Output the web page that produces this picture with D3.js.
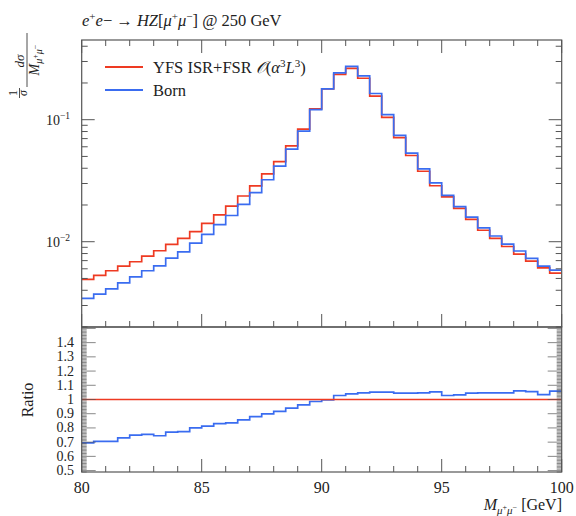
<!DOCTYPE html>
<html><head><meta charset="utf-8">
<script src="https://cdn.jsdelivr.net/npm/d3@7"></script>
<style>
body{margin:0;background:#fff}
text{font-family:"Liberation Serif","DejaVu Serif",serif;fill:#222}
</style>
</head><body><svg id="c" width="576" height="516"></svg>
<script>
// ---- data ----
const binLow = [80,80.5,81,81.5,82,82.5,83,83.5,84,84.5,85,85.5,86,86.5,87,87.5,88,88.5,89,89.5,
                90,90.5,91,91.5,92,92.5,93,93.5,94,94.5,95,95.5,96,96.5,97,97.5,98,98.5,99,99.5];
const binHigh = 100;
const yfs = [0.00491,0.0053,0.00578,0.00631,0.00685,0.00763,0.00843,0.00952,0.01067,0.0121,
             0.01415,0.0166,0.0196,0.0237,0.0287,0.0360,0.0454,0.0611,0.0838,0.1225,
             0.179,0.2354,0.2635,0.2187,0.1559,0.1046,0.0713,0.0509,0.0378,0.02875,
             0.02335,0.01878,0.01522,0.01242,0.01064,0.00914,0.00791,0.00693,0.0061,0.00552];
const born = [0.00343,0.00372,0.0041,0.0046,0.00515,0.00578,0.00635,0.00735,0.00825,0.00975,
              0.0115,0.0138,0.0164,0.0202,0.0253,0.0322,0.0417,0.0574,0.0805,0.1208,
              0.1786,0.242,0.274,0.229,0.164,0.110,0.0745,0.0532,0.0396,0.0303,
              0.0240,0.0194,0.0159,0.0130,0.01114,0.00957,0.00839,0.00731,0.00631,0.00585];
const ratioYfs = [1,1,1,1,1,1,1,1,1,1,1,1,1,1,1,1,1,1,1,1,1,1,1,1,1,1,1,1,1,1,1,1,1,1,1,1,1,1,1,1];
const ratioBorn = [0.695,0.705,0.705,0.73,0.75,0.755,0.745,0.77,0.774,0.80,
                   0.813,0.83,0.835,0.856,0.88,0.899,0.917,0.939,0.962,0.986,
                   0.997,1.028,1.04,1.047,1.052,1.052,1.045,1.045,1.047,1.054,
                   1.028,1.033,1.045,1.047,1.047,1.047,1.061,1.055,1.035,1.059];
const xTickValues = [80,85,90,95,100];
const xTickLabels = ["80","85","90","95","100"];
const yTopMajor = [0.01,0.1];
const yTopLabels = ["−2","−1"];
const ratioMajor = [0.5,0.6,0.7,0.8,0.9,1.0,1.1,1.2,1.3,1.4];
const ratioLabels = ["0.5","0.6","0.7","0.8","0.9","1","1.1","1.2","1.3","1.4"];
const legendLabels = ["YFS ISR+FSR ", "Born"];

// ---- layout ----
const svg = d3.select("#c");
const X0=81.7, X1=561.7, T0=40, T1=327, R1=472;
const RED="#ee3a22", BLUE="#3a6cf0", FR="#555";
const x = d3.scaleLinear().domain([80,100]).range([X0,X1]);
const y = d3.scaleLog().domain([0.002,0.45]).range([T1,T0]);
const yr = d3.scaleLinear().domain([0.49,1.51]).range([R1,T1]);

const defs = svg.append("defs");
defs.append("clipPath").attr("id","cpT").append("rect").attr("x",X0).attr("y",T0).attr("width",X1-X0).attr("height",T1-T0);
defs.append("clipPath").attr("id","cpR").append("rect").attr("x",X0).attr("y",T1).attr("width",X1-X0).attr("height",R1-T1);

function stepData(vals){ return binLow.map((e,i)=>[e,vals[i]]).concat([[binHigh,vals[vals.length-1]]]); }
const lineT = d3.line().x(d=>x(d[0])).y(d=>y(d[1])).curve(d3.curveStepAfter);
const lineR = d3.line().x(d=>x(d[0])).y(d=>yr(d[1])).curve(d3.curveStepAfter);

const gT = svg.append("g").attr("clip-path","url(#cpT)");
gT.append("path").attr("d",lineT(stepData(yfs))).attr("fill","none").attr("stroke",RED).attr("stroke-width",1.7);
gT.append("path").attr("d",lineT(stepData(born))).attr("fill","none").attr("stroke",BLUE).attr("stroke-width",1.7);
const gR = svg.append("g").attr("clip-path","url(#cpR)");
gR.append("path").attr("d",lineR(stepData(ratioBorn))).attr("fill","none").attr("stroke",BLUE).attr("stroke-width",1.7);
gR.append("path").attr("d",lineR(stepData(ratioYfs))).attr("fill","none").attr("stroke",RED).attr("stroke-width",1.7);

// ---- ticks ----
const tk = svg.append("g").attr("stroke",FR).attr("stroke-width",1);
const xMinor = x.ticks(20);
xMinor.forEach(v=>{
  const px=x(v), L = (v%5===0)?13:6;
  tk.append("line").attr("x1",px).attr("x2",px).attr("y1",T0).attr("y2",T0+L);
  tk.append("line").attr("x1",px).attr("x2",px).attr("y1",T1).attr("y2",T1-L);
  tk.append("line").attr("x1",px).attr("x2",px).attr("y1",R1).attr("y2",R1-L);
});
[0.001,0.01,0.1].forEach(dec=>{
  for(let m=1;m<=9;m++){
    const v=dec*m; if(v<y.domain()[0]||v>y.domain()[1]) continue;
    const py=y(v), L=(m===1)?13:6;
    tk.append("line").attr("x1",X0).attr("x2",X0+L).attr("y1",py).attr("y2",py);
    tk.append("line").attr("x1",X1).attr("x2",X1-L).attr("y1",py).attr("y2",py);
  }
});
for(let k=49;k<=151;k++){
  const v=k/100, py=yr(v), L=(k%10===0)?14:5;
  tk.append("line").attr("x1",X0).attr("x2",X0+L).attr("y1",py).attr("y2",py).attr("stroke-width",0.7);
  tk.append("line").attr("x1",X1).attr("x2",X1-L).attr("y1",py).attr("y2",py).attr("stroke-width",0.7);
}
svg.append("rect").attr("x",X0).attr("y",T0).attr("width",X1-X0).attr("height",T1-T0).attr("fill","none").attr("stroke",FR).attr("stroke-width",1.2);
svg.append("rect").attr("x",X0).attr("y",T1).attr("width",X1-X0).attr("height",R1-T1).attr("fill","none").attr("stroke",FR).attr("stroke-width",1.2);

// rich-text helper: parts = [text, {italic, sup, sub, size}]
function rich(t, parts, base){
  let off=0;
  parts.forEach(p=>{
    const o = typeof p==="string" ? {s:p} : p;
    const target = o.sup ? -o.sup : (o.sub ? o.sub : 0);
    const ts = t.append("tspan").text(o.s).attr("font-size", o.size || base);
    if(target!==off){ ts.attr("dy", target-off); off=target; }
    if(o.it) ts.attr("font-style","italic");
  });
}

// ---- tick labels ----
xTickValues.forEach((v,i)=>{
  svg.append("text").attr("x",x(v)).attr("y",493).attr("text-anchor","middle").attr("font-size",16).text(xTickLabels[i]);
});
yTopMajor.forEach((v,i)=>{
  const t=svg.append("text").attr("x",70).attr("y",y(v)+5).attr("text-anchor","end");
  rich(t,["10",{s:yTopLabels[i],sup:6,size:9.5}],14);
});
ratioMajor.forEach((v,i)=>{
  svg.append("text").attr("x",74).attr("y",yr(v)+4.5).attr("text-anchor","end").attr("font-size",14).text(ratioLabels[i]);
});

// ---- title ----
(function(){
  const t=svg.append("text").attr("x",82).attr("y",26);
  rich(t,[{s:"e",it:1},{s:"+",sup:6,size:11},{s:"e",it:1},"− → ",{s:"HZ",it:1},"[",
          {s:"μ",it:1},{s:"+",sup:6,size:11},{s:"μ",it:1},{s:"−",sup:6,size:11},"] @ 250 GeV"],16.5);
})();

// ---- legend ----
[[RED,67,72.5],[BLUE,90,96]].forEach((d,i)=>{
  svg.append("line").attr("x1",105).attr("x2",143).attr("y1",d[1]).attr("y2",d[1]).attr("stroke",d[0]).attr("stroke-width",1.8);
  const t=svg.append("text").attr("x",153).attr("y",d[2]);
  if(i===0){
    rich(t,[legendLabels[0],{s:"𝒪",it:1},"(",{s:"α",it:1},{s:"3",sup:6,size:11},{s:"L",it:1},{s:"3",sup:6,size:11},")"],16.5);
  } else rich(t,[legendLabels[1]],16.5);
});

// ---- y label (rotated) ----
(function(){
  const g=svg.append("g").attr("transform","rotate(-90)");
  g.append("text").attr("x",-93).attr("y",17).attr("text-anchor","middle").attr("font-size",12).text("1");
  g.append("line").attr("x1",-98).attr("x2",-88).attr("y1",19.5).attr("y2",19.5).attr("stroke","#222").attr("stroke-width",0.8);
  g.append("text").attr("x",-93).attr("y",27).attr("text-anchor","middle").attr("font-size",12).attr("font-style","italic").text("σ");
  g.append("text").attr("x",-61).attr("y",24).attr("text-anchor","middle").attr("font-size",13).attr("font-style","italic").text("dσ");
  g.append("line").attr("x1",-87).attr("x2",-33).attr("y1",27).attr("y2",27).attr("stroke","#222").attr("stroke-width",0.8);
  const d=g.append("text").attr("x",-60).attr("y",39).attr("text-anchor","middle");
  rich(d,[{s:"M",it:1},{s:"μ",it:1,sub:3,size:10},{s:"+",sup:1,size:8},{s:"μ",it:1,sub:3,size:10},{s:"−",sup:1,size:8}],14);
  g.append("text").attr("x",-400).attr("y",33).attr("text-anchor","middle").attr("font-size",16).text("Ratio");
})();

// ---- x label ----
(function(){
  const t=svg.append("text").attr("x",562).attr("y",510).attr("text-anchor","end");
  rich(t,[{s:"M",it:1},{s:"μ",it:1,sub:4,size:11},{s:"+",sup:0.5,size:8},{s:"μ",it:1,sub:4,size:11},{s:"−",sup:0.5,size:8},"  [GeV]"],16);
})();
</script></body></html>
